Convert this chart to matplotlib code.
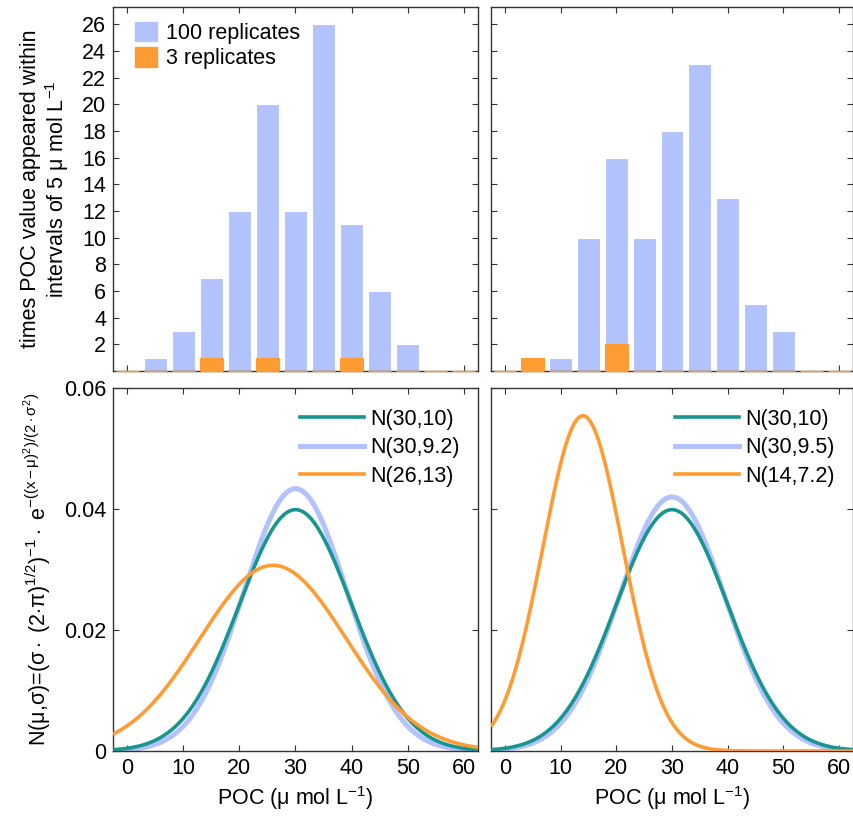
import numpy as np
import matplotlib
matplotlib.use("Agg")
import matplotlib.pyplot as plt
from matplotlib.patches import Patch
from matplotlib.lines import Line2D

plt.rcParams['font.family'] = ['Liberation Sans', 'DejaVu Sans']
plt.rcParams['mathtext.fontset'] = 'custom'
plt.rcParams['mathtext.rm'] = 'Liberation Sans'
plt.rcParams['mathtext.it'] = 'Liberation Sans'
plt.rcParams['mathtext.sf'] = 'Liberation Sans'

# ---- data ----
bin_centers = [0, 5, 10, 15, 20, 25, 30, 35, 40, 45, 50, 55, 60]
left_100 = [0, 1, 3, 7, 12, 20, 12, 26, 11, 6, 2, 0, 0]
left_3 = [0, 0, 0, 1, 0, 1, 0, 0, 1, 0, 0, 0, 0]
right_100 = [0, 0, 1, 10, 16, 10, 18, 23, 13, 5, 3, 0, 0]
right_3 = [0, 1, 0, 0, 2, 0, 0, 0, 0, 0, 0, 0, 0]

left_params = [(30, 10), (30, 9.2), (26, 13)]
left_labels = ["N(30,10)", "N(30,9.2)", "N(26,13)"]
right_params = [(30, 10), (30, 9.5), (14, 7.2)]
right_labels = ["N(30,10)", "N(30,9.5)", "N(14,7.2)"]

hist_yticks = [2, 4, 6, 8, 10, 12, 14, 16, 18, 20, 22, 24, 26]
pdf_yticks = [0, 0.02, 0.04, 0.06]
pdf_yticklabels = ["0", "0.02", "0.04", "0.06"]
xticks = [0, 10, 20, 30, 40, 50, 60]

BLUE = '#b2c2fc'
ORANGE = '#ff9b33'
TEAL = '#17958e'
SPINE = '#333333'
FS = 15.5
BAR_W = 4.1

fig = plt.figure(figsize=(8.54, 8.17), dpi=100)
W, H = 854, 817
def rect(x0, y0, x1, y1):
    return [x0 / W, 1 - y1 / H, (x1 - x0) / W, (y1 - y0) / H]

ax_tl = fig.add_axes(rect(113, 7, 478, 371))
ax_tr = fig.add_axes(rect(491, 7, 853, 371))
ax_bl = fig.add_axes(rect(113, 388, 478, 751))
ax_br = fig.add_axes(rect(491, 388, 853, 751))

def style(ax):
    for s in ax.spines.values():
        s.set_color(SPINE)
        s.set_linewidth(1.0)
    ax.tick_params(direction='in', top=True, right=True, length=4,
                   width=0.8, color=SPINE, labelsize=FS, pad=5)
    ax.set_xlim(-2.5, 62.5)
    ax.set_xticks(xticks)

for ax, b100, b3 in [(ax_tl, left_100, left_3), (ax_tr, right_100, right_3)]:
    style(ax)
    ax.bar(bin_centers, b100, width=BAR_W, color=BLUE, edgecolor='white', linewidth=0.8, zorder=2)
    ax.bar(bin_centers, b3, width=BAR_W, color=ORANGE, edgecolor=ORANGE, linewidth=0.8, zorder=3)
    # zero-height bars of the 3-replicate series show as a thin baseline stroke
    ax.hlines([0] * len(bin_centers), [c - BAR_W / 2 for c in bin_centers],
              [c + BAR_W / 2 for c in bin_centers], colors=ORANGE, lw=1.0,
              zorder=4, clip_on=False)
    ax.set_ylim(0, 27.3)
    ax.set_yticks(hist_yticks)
    ax.tick_params(labelbottom=False)

ax_tl.set_ylabel("times POC value appeared within\nintervals of 5 $\\mu$ mol L$^{-1}$",
                 fontsize=FS, labelpad=8, linespacing=1.1)
ax_tr.tick_params(labelleft=False)

handles = [Patch(facecolor=BLUE, edgecolor=BLUE), Patch(facecolor=ORANGE, edgecolor=ORANGE)]
ax_tl.legend(handles, ["100 replicates", "3 replicates"], loc='upper left', frameon=False,
             fontsize=FS, handlelength=1.0, handleheight=1.0, handletextpad=0.4,
             labelspacing=0.15, borderaxespad=0.3, bbox_to_anchor=(0.02, 1.0))

xx = np.linspace(-2.5, 62.5, 600)
def npdf(x, m, s):
    return 1.0 / (s * np.sqrt(2 * np.pi)) * np.exp(-((x - m) ** 2) / (2 * s ** 2))

for ax, params, labels in [(ax_bl, left_params, left_labels), (ax_br, right_params, right_labels)]:
    style(ax)
    (m0, s0), (m1, s1), (m2, s2) = params
    ax.plot(xx, npdf(xx, m1, s1), color=BLUE, lw=3.6, zorder=2, solid_capstyle='butt')
    ax.plot(xx, npdf(xx, m0, s0), color=TEAL, lw=2.6, zorder=3, solid_capstyle='butt')
    ax.plot(xx, npdf(xx, m2, s2), color=ORANGE, lw=2.6, zorder=4, solid_capstyle='butt')
    ax.set_ylim(0, 0.06)
    ax.set_yticks(pdf_yticks)
    ax.set_yticklabels(pdf_yticklabels)
    ax.set_xlabel("POC ($\\mu$ mol L$^{-1}$)", fontsize=FS, labelpad=4)
    h = [Line2D([], [], color=TEAL, lw=2.6), Line2D([], [], color=BLUE, lw=3.6),
         Line2D([], [], color=ORANGE, lw=2.6)]
    ax.legend(h, labels, loc='upper right', frameon=False, fontsize=FS,
              handlelength=3.0, handletextpad=0.25, labelspacing=0.35,
              borderaxespad=0.3, bbox_to_anchor=(0.99, 0.985))

ax_br.tick_params(labelleft=False)
ax_bl.set_ylabel("N($\\mu$,$\\sigma$)=($\\sigma\\cdot$ (2$\\cdot\\pi$)$^{1/2}$)$^{-1}\\cdot$ e$^{-((x-\\mu)^2)/(2\\cdot\\sigma^2)}$",
                 fontsize=FS, labelpad=8)

fig.savefig("out.png", dpi=100)
